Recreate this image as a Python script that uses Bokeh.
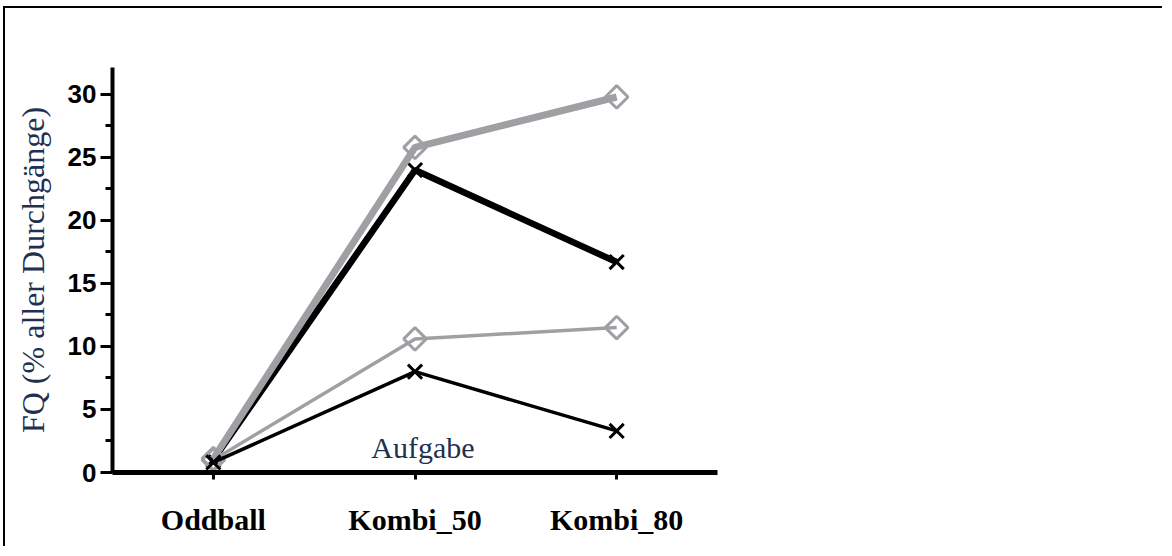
from bokeh.plotting import figure
from bokeh.models import FactorRange, Range1d, SingleIntervalTicker, Label
from bokeh.embed import file_html
from bokeh.resources import INLINE

# ---- data ----
categories = ["Oddball", "Kombi_50", "Kombi_80"]
gray_thick = [1.1, 25.8, 29.8]
black_thick = [1.0, 24.0, 16.7]
gray_thin = [1.0, 10.6, 11.5]
black_thin = [0.8, 8.0, 3.3]
y_label = "FQ (% aller Durchgänge)"
x_label = "Aufgabe"

GRAY = "#a0a0a4"
NAVY = "#1f3050"

W, H = 1159, 540
p = figure(
    x_range=FactorRange(*categories),
    y_range=Range1d(0, 32.14),
    width=W, height=H,
    min_border_left=107, min_border_right=W - 107 - 605,
    min_border_top=59, min_border_bottom=H - 59 - 405,
    output_backend="svg", toolbar_location=None, title=None,
)
p.margin = (6, 0, 0, 3)
# page frame lines (top and left) as in the reference screenshot
p.styles = {"border-top": "2px solid black", "border-left": "2px solid black"}

p.grid.visible = False
p.outline_line_color = None
p.background_fill_color = "white"
p.border_fill_color = "white"

# y axis
ya = p.yaxis[0]
ya.ticker = SingleIntervalTicker(interval=5, num_minor_ticks=2)
ya.axis_line_width = 4
ya.axis_line_color = "black"
ya.major_tick_in = 0
ya.major_tick_out = 12
ya.major_tick_line_width = 3
ya.minor_tick_in = 0
ya.minor_tick_out = 7
ya.minor_tick_line_width = 3
ya.major_label_standoff = 4
ya.major_label_text_font = "Liberation Sans"
ya.major_label_text_font_style = "bold"
ya.major_label_text_font_size = "26px"
ya.major_label_text_color = "black"
ya.axis_label = y_label
ya.axis_label_text_font = "Liberation Serif"
ya.axis_label_text_font_style = "normal"
ya.axis_label_text_font_size = "32px"
ya.axis_label_text_color = NAVY
ya.axis_label_standoff = 14

# x axis
xa = p.xaxis[0]
xa.axis_line_width = 5
xa.axis_line_color = "black"
xa.major_tick_in = 0
xa.major_tick_out = 7
xa.major_tick_line_width = 3
xa.major_label_standoff = 23
xa.major_label_text_font = "Liberation Serif"
xa.major_label_text_font_style = "bold"
xa.major_label_text_font_size = "30px"
xa.major_label_text_color = "black"

# series
p.line(categories, black_thick, line_color="black", line_width=6.5)
p.scatter(categories, black_thick, marker="x", size=20, line_color="black", line_width=3)

p.line(categories, gray_thick, line_color=GRAY, line_width=7)
p.scatter(categories, gray_thick, marker="square", angle=0.7854, size=16,
          fill_color=None, line_color=GRAY, line_width=3)

p.line(categories, gray_thin, line_color=GRAY, line_width=3.5)
p.scatter(categories, gray_thin, marker="square", angle=0.7854, size=16,
          fill_color=None, line_color=GRAY, line_width=3)

p.line(categories, black_thin, line_color="black", line_width=3.5)
p.scatter(categories, black_thin, marker="x", size=20, line_color="black", line_width=3)

# axis title "Aufgabe" sits above the x axis, centred on the middle category
label_x = categories.index("Kombi_50") + 0.5
p.add_layout(Label(x=label_x, y=0, x_offset=8, y_offset=25, text=x_label,
                   text_align="center", text_baseline="alphabetic",
                   text_font="Liberation Serif", text_font_size="30px",
                   text_color=NAVY))

open("out.html", "w").write(file_html(p, INLINE))
